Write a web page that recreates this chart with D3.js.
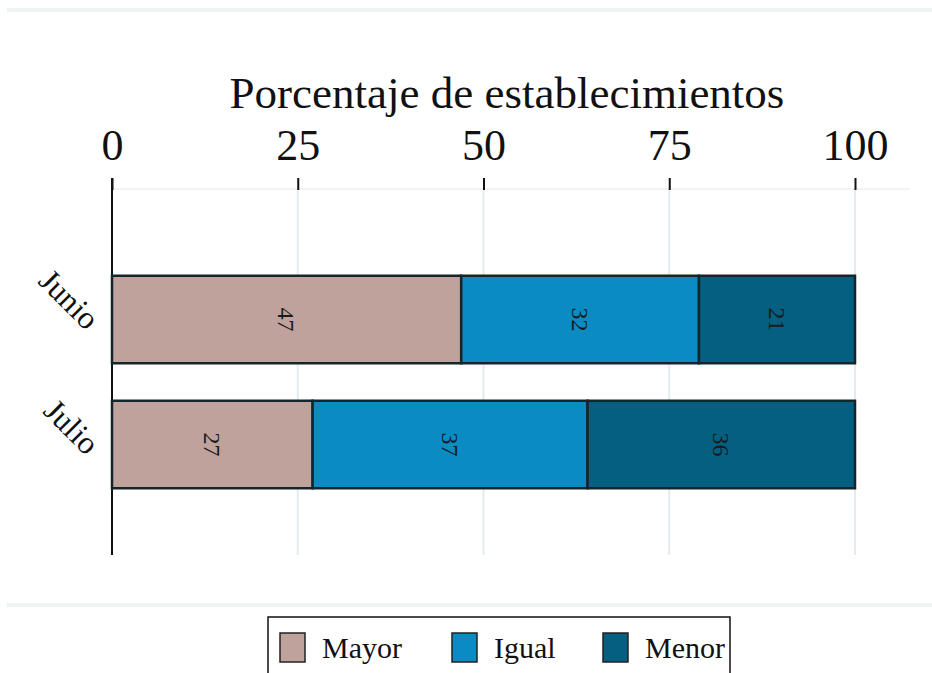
<!DOCTYPE html>
<html lang="es">
<head>
<meta charset="UTF-8">
<title>Porcentaje de establecimientos</title>
<script src="https://d3js.org/d3.v7.min.js"></script>
<style>
  body { margin: 0; background: #fff; }
  svg { display: block; font-family: "Liberation Serif", "DejaVu Serif", serif; }
</style>
</head>
<body>
<svg width="932" height="673"></svg>
<script>
// Data
const months = ["Junio", "Julio"];
const categories = ["Mayor", "Igual", "Menor"];
const mayor = [47, 27];
const igual = [32, 37];
const menor = [21, 36];
const ticks = [0, 25, 50, 75, 100];
const colors = ["#bfa29c", "#0a8bc1", "#045f80"];

const rows = months.map((m, i) => ({month: m, Mayor: mayor[i], Igual: igual[i], Menor: menor[i]}));
const stacked = d3.stack().keys(categories)(rows);

const svg = d3.select("svg");

const x = d3.scaleLinear().domain([0, 100]).range([112, 855]);
const y = d3.scaleBand().domain(months).range([257, 507]).paddingInner(0.3).paddingOuter(0.15);
const color = d3.scaleOrdinal().domain(categories).range(colors);

// faint frame bands
svg.append("rect").attr("x", 7).attr("y", 8).attr("width", 925).attr("height", 4).attr("fill", "#eef4f3");
svg.append("rect").attr("x", 7).attr("y", 603).attr("width", 925).attr("height", 4).attr("fill", "#eef4f3");
svg.append("line").attr("x1", 112).attr("x2", 910).attr("y1", 189).attr("y2", 189)
  .attr("stroke", "#f0f4f4").attr("stroke-width", 2);

// gridlines
svg.append("g").selectAll("line").data(ticks.slice(1)).join("line")
  .attr("x1", d => x(d)).attr("x2", d => x(d))
  .attr("y1", 190).attr("y2", 555)
  .attr("stroke", "#e2ecee").attr("stroke-width", 2);

// top axis
const axis = svg.append("g").attr("transform", "translate(0,190)")
  .call(d3.axisTop(x).tickValues(ticks).tickSize(12).tickPadding(18));
axis.select(".domain").remove();
axis.selectAll(".tick line").attr("stroke", "#111").attr("stroke-width", 2);
axis.selectAll(".tick text")
  .attr("font-family", "Liberation Serif, serif")
  .attr("font-size", 44).attr("fill", "#111");

// left axis line
svg.append("line").attr("x1", x(0)).attr("x2", x(0)).attr("y1", 178).attr("y2", 555)
  .attr("stroke", "#111").attr("stroke-width", 2);

// title
svg.append("text").attr("x", 507).attr("y", 108).attr("text-anchor", "middle")
  .attr("font-size", 45).attr("fill", "#111").text("Porcentaje de establecimientos");

// bars
const layers = svg.append("g").selectAll("g").data(stacked).join("g")
  .attr("fill", d => color(d.key));
layers.selectAll("rect").data(d => d).join("rect")
  .attr("x", d => x(d[0])).attr("width", d => x(d[1]) - x(d[0]))
  .attr("y", d => y(d.data.month)).attr("height", y.bandwidth())
  .attr("stroke", "#15252c").attr("stroke-width", 2.5);

// value labels
layers.selectAll("text").data(d => d.map(v => ({v, key: d.key}))).join("text")
  .attr("transform", d => `translate(${(x(d.v[0]) + x(d.v[1])) / 2},${y(d.v.data.month) + y.bandwidth() / 2}) rotate(90)`)
  .attr("text-anchor", "middle").attr("dy", "0.35em")
  .attr("font-size", 24).attr("fill", "#1a1a1a")
  .text(d => d.v.data[d.key]);

// month labels
svg.append("g").selectAll("text").data(months).join("text")
  .attr("transform", d => `translate(86,${y(d) + y.bandwidth() / 2 + 12}) rotate(45)`)
  .attr("text-anchor", "end")
  .attr("font-size", 32).attr("fill", "#111")
  .text(d => d);

// legend
const lg = svg.append("g");
lg.append("rect").attr("x", 268).attr("y", 617).attr("width", 462).attr("height", 70)
  .attr("fill", "#fff").attr("stroke", "#111").attr("stroke-width", 1.5);
const lx = [280, 452, 603];
const items = lg.selectAll("g").data(categories).join("g")
  .attr("transform", (d, i) => `translate(${lx[i]},633)`);
items.append("rect").attr("width", 25).attr("height", 29)
  .attr("fill", d => color(d)).attr("stroke", "#222").attr("stroke-width", 1.5);
items.append("text").attr("x", 42).attr("y", 25)
  .attr("font-size", 30).attr("fill", "#111").text(d => d);
</script>
</body>
</html>
